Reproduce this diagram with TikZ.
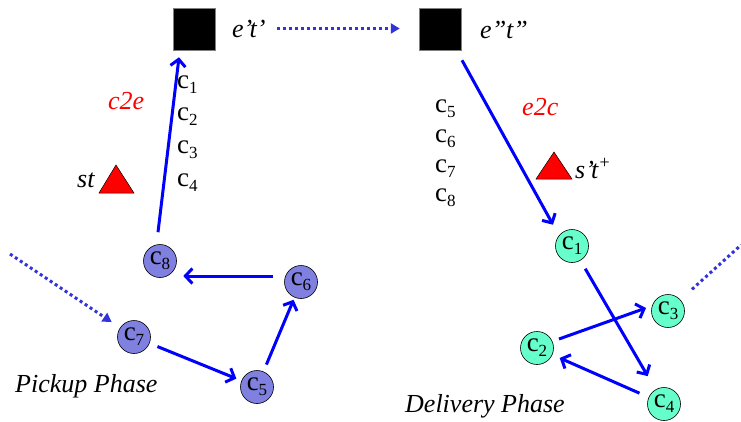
\documentclass[tikz,border=0pt]{standalone}
\usepackage{fontspec}
\setmainfont{Liberation Serif}
\usetikzlibrary{arrows.meta,calc}
\definecolor{pickc}{RGB}{128,128,224}
\definecolor{delc}{RGB}{102,255,204}
\definecolor{dotc}{RGB}{51,51,221}
\newcommand{\csub}[1]{c\raisebox{-5pt}{\fontsize{17}{20}\selectfont #1}}
\tikzset{
 lbl/.style={font=\fontsize{27}{30}\selectfont, inner sep=0pt, anchor=base west},
 ital/.style={inner sep=0pt, anchor=base west, font=\fontsize{26}{30}\selectfont\itshape},
 redital/.style={ital, text=red},
 pick/.style={circle, draw=black, line width=0.6pt, fill=pickc, minimum size=33pt, inner sep=0pt, font=\fontsize{27}{30}\selectfont},
 deliv/.style={pick, fill=delc},
 blackbox/.style={fill=black, draw=gray, line width=0.5pt, minimum size=42pt, inner sep=0pt},
 arr/.style={draw=blue, line width=3pt, -{Straight Barb[length=7pt,width=15pt]}},
 dotarr/.style={draw=dotc, line width=3pt, dash pattern=on 3pt off 3pt, -{Triangle[length=9pt,width=10pt]}},
 tri/.style={fill=red, draw=black, line width=0.5pt},
}
\begin{document}
\begin{tikzpicture}[x=1pt,y=-1pt]
\useasboundingbox (0,0) rectangle (741,421);
% depots
\node[blackbox] (sq1) at (194,29) {};
\node[blackbox] (sq2) at (440,29) {};
\node[ital] (et1) at (232,37) {e’t’};
\node[ital] (et2) at (480,38) {e”t”};
% request lists
\node[lbl] (l1) at (177,88) {\csub{1}};
\node[lbl] (l2) at (177,120) {\csub{2}};
\node[lbl] (l3) at (177,153) {\csub{3}};
\node[lbl] (l4) at (177,186) {\csub{4}};
\node[lbl] (l5) at (435,112) {\csub{5}};
\node[lbl] (l6) at (435,142) {\csub{6}};
\node[lbl] (l7) at (435,172) {\csub{7}};
\node[lbl] (l8) at (435,201) {\csub{8}};
% labels
\node[redital] (c2e) at (108,109) {c2e};
\node[redital] (e2c) at (522,115) {e2c};
\node[ital] (st) at (77,187) {st};
\node[ital] (stp) at (575,178) {s’t\textsuperscript{+}};
\node[ital] (pp) at (15,392) {Pickup Phase};
\node[ital] (dp) at (405,412) {Delivery Phase};
% triangles
\filldraw[tri] (116,165) -- (134,193) -- (99,193) -- cycle;
\filldraw[tri] (554,152) -- (572,179) -- (536,179) -- cycle;
% pickup customers
\node[pick] (p8) at (160,261) {\csub{8}};
\node[pick] (p6) at (301,282) {\csub{6}};
\node[pick] (p7) at (134,337) {\csub{7}};
\node[pick] (p5) at (257,387) {\csub{5}};
% delivery customers
\node[deliv] (d1) at (572,246) {\csub{1}};
\node[deliv] (d3) at (668,311) {\csub{3}};
\node[deliv] (d2) at (537,348) {\csub{2}};
\node[deliv] (d4) at (664,404) {\csub{4}};
% free ends
\coordinate (in1) at (10,254);
\coordinate (out1) at (741,245);
% connectors
\draw[dotarr, shorten <=11pt, shorten >=19pt] (et1.east) -- (et1.east -| sq2.west);
\draw[arr] ($(p8.north)+(-2,-12)$) -- ($(sq1.south)+(-15,7)$);
\draw[arr] ($(sq2.south)+(22,10)$) -- ($(d1.north)+(-19,-4.5)$);
\draw[arr] ($(p6.west)+(-11,-6)$) -- ($(p8.east)+(6.5,15)$);
\draw[arr, shorten <=8.5pt, shorten >=5.5pt] (p7) -- (p5);
\draw[arr, shorten <=7.5pt, shorten >=2.5pt] (p5) -- (p6);
\draw[arr, shorten <=9.5pt, shorten >=15.5pt] (d1) -- (d4);
\draw[arr] ($(d2)+(22,-9)$) -- ($(d3)+(-22,-3)$);
\draw[arr, shorten <=10pt, shorten >=8pt] (d4) -- (d2);
\draw[dotarr, shorten >=10pt] (in1) -- (p7);
\draw[dotarr, -, shorten <=15.5pt] (d3) -- (out1);
\end{tikzpicture}
\end{document}
